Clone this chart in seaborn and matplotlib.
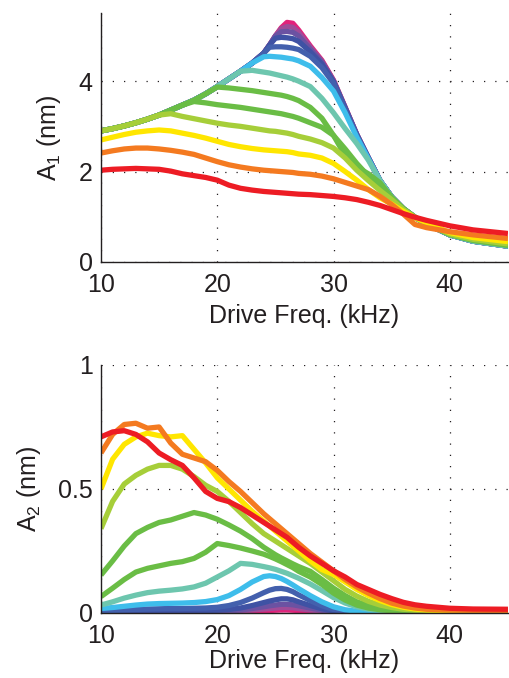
import numpy as np
import pandas as pd
import matplotlib
matplotlib.use("Agg")
import matplotlib.pyplot as plt
import seaborn as sns
from matplotlib.ticker import MultipleLocator, NullLocator

# ---------------- data ----------------
freq = [10, 11, 12, 13, 14, 15, 16, 17, 18, 19, 20, 21, 22, 23, 24, 24.5, 25, 25.5,
        26, 26.5, 27, 28, 29, 30, 31, 32, 33, 34, 35, 36, 37, 38, 40, 42, 45]

curve_names = ["c00", "c01", "c02", "c03", "c04", "c05", "c06",
               "c07", "c08", "c09", "c10", "c11", "c12"]
curve_colors = ["#E2237B", "#A04C98", "#6B52A2", "#3F52A4", "#4360AD", "#3EBDEB",
                "#6DC6AE", "#6ABD45", "#6ABD45", "#A6CE39", "#FFE600", "#F47A20", "#ED1C24"]

# A1 (top panel), nm
a1_c00 = [2.90, 2.95, 3.01, 3.08, 3.16, 3.25, 3.36, 3.47, 3.58, 3.72, 3.88, 4.05, 4.22, 4.40, 4.62,
          4.80, 5.00, 5.18, 5.30, 5.28, 5.13, 4.78, 4.46, 4.02, 3.42, 2.82, 2.30, 1.80, 1.44,
          1.18, 0.99, 0.84, 0.60, 0.46, 0.35]
a1_c01 = [2.90, 2.95, 3.01, 3.08, 3.16, 3.25, 3.36, 3.47, 3.58, 3.72, 3.88, 4.05, 4.22, 4.40, 4.62,
          4.80, 5.00, 5.16, 5.21, 5.19, 5.08, 4.75, 4.44, 4.01, 3.42, 2.82, 2.30, 1.80, 1.44,
          1.18, 0.99, 0.84, 0.60, 0.46, 0.35]
a1_c02 = [2.90, 2.95, 3.01, 3.08, 3.16, 3.25, 3.36, 3.47, 3.58, 3.72, 3.88, 4.05, 4.22, 4.40, 4.62,
          4.80, 5.00, 5.09, 5.10, 5.08, 5.00, 4.71, 4.42, 4.00, 3.41, 2.82, 2.30, 1.80, 1.44,
          1.18, 0.99, 0.84, 0.60, 0.46, 0.35]
a1_c03 = [2.90, 2.95, 3.01, 3.08, 3.16, 3.25, 3.36, 3.47, 3.58, 3.72, 3.88, 4.05, 4.22, 4.40, 4.62,
          4.80, 4.95, 4.97, 4.96, 4.94, 4.88, 4.65, 4.38, 3.98, 3.40, 2.81, 2.30, 1.80, 1.44,
          1.18, 0.99, 0.84, 0.60, 0.46, 0.35]
a1_c04 = [2.90, 2.95, 3.01, 3.08, 3.16, 3.25, 3.36, 3.47, 3.58, 3.72, 3.88, 4.05, 4.22, 4.40, 4.62,
          4.75, 4.76, 4.76, 4.75, 4.73, 4.70, 4.55, 4.30, 3.95, 3.38, 2.80, 2.30, 1.80, 1.44,
          1.18, 0.99, 0.84, 0.60, 0.46, 0.35]
a1_c05 = [2.90, 2.95, 3.01, 3.08, 3.16, 3.25, 3.36, 3.47, 3.58, 3.72, 3.88, 4.05, 4.22, 4.40, 4.54,
          4.55, 4.54, 4.53, 4.51, 4.49, 4.45, 4.33, 4.08, 3.78, 3.30, 2.76, 2.28, 1.80, 1.44,
          1.18, 0.99, 0.84, 0.60, 0.46, 0.35]
a1_c06 = [2.90, 2.95, 3.01, 3.08, 3.16, 3.25, 3.36, 3.47, 3.58, 3.72, 3.88, 4.05, 4.22, 4.24, 4.20,
          4.18, 4.15, 4.12, 4.09, 4.05, 4.00, 3.88, 3.62, 3.30, 2.95, 2.62, 2.25, 1.80, 1.44,
          1.18, 0.99, 0.84, 0.60, 0.46, 0.35]
a1_c07 = [2.90, 2.95, 3.01, 3.08, 3.16, 3.25, 3.36, 3.47, 3.58, 3.72, 3.87, 3.85, 3.82, 3.79, 3.75,
          3.73, 3.71, 3.69, 3.66, 3.62, 3.57, 3.42, 3.18, 2.80, 2.35, 2.10, 1.95, 1.75, 1.43,
          1.18, 0.99, 0.85, 0.61, 0.48, 0.37]
a1_c08 = [2.90, 2.95, 3.01, 3.08, 3.16, 3.25, 3.36, 3.47, 3.55, 3.52, 3.48, 3.45, 3.42, 3.38, 3.34,
          3.32, 3.30, 3.28, 3.25, 3.22, 3.18, 3.08, 2.98, 2.80, 2.50, 2.18, 1.90, 1.70, 1.42,
          1.18, 0.99, 0.85, 0.61, 0.48, 0.37]
a1_c09 = [2.90, 2.95, 3.01, 3.08, 3.16, 3.25, 3.28, 3.22, 3.17, 3.12, 3.07, 3.03, 3.00, 2.96, 2.92,
          2.90, 2.89, 2.87, 2.85, 2.82, 2.78, 2.72, 2.64, 2.52, 2.30, 2.03, 1.80, 1.58, 1.38,
          1.16, 0.99, 0.86, 0.62, 0.50, 0.40]
a1_c10 = [2.70, 2.76, 2.82, 2.87, 2.90, 2.92, 2.90, 2.85, 2.80, 2.74, 2.67, 2.60, 2.55, 2.51, 2.48,
          2.47, 2.46, 2.45, 2.44, 2.42, 2.39, 2.36, 2.30, 2.18, 2.00, 1.81, 1.60, 1.42, 1.28,
          1.12, 0.98, 0.87, 0.65, 0.54, 0.45]
a1_c11 = [2.41, 2.46, 2.50, 2.52, 2.52, 2.50, 2.47, 2.43, 2.38, 2.30, 2.22, 2.15, 2.10, 2.06, 2.03,
          2.02, 2.01, 2.00, 1.99, 1.98, 1.96, 1.94, 1.90, 1.84, 1.76, 1.68, 1.60, 1.45, 1.27,
          1.06, 0.83, 0.76, 0.67, 0.60, 0.52]
a1_c12 = [2.03, 2.05, 2.06, 2.07, 2.06, 2.05, 2.01, 1.95, 1.91, 1.87, 1.81, 1.70, 1.63, 1.59, 1.56,
          1.55, 1.54, 1.53, 1.52, 1.51, 1.50, 1.49, 1.47, 1.45, 1.42, 1.38, 1.32, 1.25, 1.16,
          1.07, 0.99, 0.92, 0.80, 0.71, 0.63]

# A2 (bottom panel), nm
a2_c00 = [0.002, 0.002, 0.002, 0.003, 0.003, 0.003, 0.003, 0.003, 0.003, 0.003, 0.004, 0.004, 0.005, 0.007, 0.009,
          0.010, 0.011, 0.012, 0.012, 0.011, 0.010, 0.007, 0.004, 0.002, 0.001, 0.001, 0.001, 0.001, 0.001,
          0.001, 0.001, 0.001, 0.001, 0.001, 0.001]
a2_c01 = [0.002, 0.002, 0.003, 0.003, 0.003, 0.003, 0.004, 0.004, 0.004, 0.004, 0.005, 0.006, 0.008, 0.012, 0.016,
          0.018, 0.020, 0.022, 0.022, 0.021, 0.018, 0.012, 0.007, 0.003, 0.002, 0.001, 0.001, 0.001, 0.001,
          0.001, 0.001, 0.001, 0.001, 0.001, 0.001]
a2_c02 = [0.003, 0.003, 0.004, 0.004, 0.005, 0.005, 0.005, 0.005, 0.006, 0.006, 0.007, 0.009, 0.012, 0.018, 0.025,
          0.029, 0.032, 0.035, 0.035, 0.033, 0.029, 0.020, 0.011, 0.005, 0.003, 0.002, 0.002, 0.002, 0.002,
          0.002, 0.002, 0.002, 0.002, 0.002, 0.002]
a2_c03 = [0.004, 0.005, 0.006, 0.007, 0.008, 0.008, 0.009, 0.009, 0.009, 0.010, 0.011, 0.014, 0.020, 0.030, 0.042,
          0.048, 0.053, 0.057, 0.057, 0.053, 0.045, 0.030, 0.017, 0.008, 0.004, 0.002, 0.002, 0.002, 0.002,
          0.002, 0.002, 0.002, 0.002, 0.002, 0.002]
a2_c04 = [0.008, 0.010, 0.012, 0.014, 0.016, 0.017, 0.018, 0.018, 0.019, 0.020, 0.023, 0.030, 0.042, 0.060, 0.082,
          0.092, 0.098, 0.099, 0.095, 0.086, 0.073, 0.050, 0.029, 0.014, 0.007, 0.003, 0.002, 0.002, 0.002,
          0.002, 0.002, 0.002, 0.002, 0.002, 0.002]
a2_c05 = [0.018, 0.022, 0.027, 0.032, 0.036, 0.038, 0.039, 0.040, 0.042, 0.046, 0.054, 0.070, 0.095, 0.125, 0.147,
          0.150, 0.147, 0.139, 0.127, 0.113, 0.098, 0.070, 0.045, 0.025, 0.013, 0.007, 0.004, 0.003, 0.003,
          0.003, 0.003, 0.003, 0.003, 0.003, 0.003]
a2_c06 = [0.032, 0.045, 0.060, 0.072, 0.082, 0.088, 0.092, 0.097, 0.105, 0.120, 0.145, 0.170, 0.200, 0.196, 0.187,
          0.182, 0.176, 0.168, 0.160, 0.150, 0.140, 0.117, 0.090, 0.062, 0.040, 0.025, 0.015, 0.010, 0.007,
          0.005, 0.004, 0.004, 0.004, 0.004, 0.004]
a2_c07 = [0.066, 0.100, 0.135, 0.165, 0.180, 0.190, 0.200, 0.207, 0.220, 0.245, 0.280, 0.272, 0.262, 0.250, 0.237,
          0.228, 0.218, 0.207, 0.195, 0.183, 0.168, 0.145, 0.115, 0.080, 0.052, 0.032, 0.020, 0.013, 0.009,
          0.007, 0.006, 0.005, 0.005, 0.005, 0.005]
a2_c08 = [0.153, 0.210, 0.270, 0.320, 0.345, 0.365, 0.375, 0.390, 0.405, 0.395, 0.378, 0.355, 0.330, 0.300, 0.265,
          0.250, 0.235, 0.222, 0.210, 0.198, 0.187, 0.168, 0.135, 0.100, 0.070, 0.045, 0.030, 0.020, 0.014,
          0.010, 0.008, 0.006, 0.005, 0.005, 0.005]
a2_c09 = [0.340, 0.450, 0.520, 0.555, 0.580, 0.595, 0.595, 0.580, 0.550, 0.515, 0.490, 0.450, 0.405, 0.360, 0.320,
          0.305, 0.290, 0.275, 0.260, 0.245, 0.230, 0.200, 0.165, 0.130, 0.095, 0.068, 0.047, 0.032, 0.022,
          0.015, 0.011, 0.009, 0.007, 0.006, 0.006]
a2_c10 = [0.500, 0.620, 0.680, 0.710, 0.725, 0.715, 0.710, 0.715, 0.660, 0.605, 0.545, 0.500, 0.455, 0.410, 0.370,
          0.350, 0.330, 0.310, 0.290, 0.270, 0.250, 0.210, 0.175, 0.155, 0.125, 0.095, 0.070, 0.050, 0.034,
          0.023, 0.016, 0.012, 0.009, 0.008, 0.007]
a2_c11 = [0.645, 0.720, 0.760, 0.765, 0.745, 0.750, 0.685, 0.640, 0.625, 0.610, 0.575, 0.530, 0.490, 0.445, 0.400,
          0.380, 0.360, 0.340, 0.320, 0.300, 0.280, 0.240, 0.205, 0.170, 0.135, 0.105, 0.080, 0.058, 0.040,
          0.028, 0.020, 0.015, 0.012, 0.011, 0.010]
a2_c12 = [0.710, 0.730, 0.735, 0.720, 0.690, 0.645, 0.618, 0.595, 0.545, 0.490, 0.462, 0.449, 0.425, 0.395, 0.365,
          0.350, 0.335, 0.320, 0.305, 0.285, 0.265, 0.230, 0.200, 0.170, 0.145, 0.115, 0.095, 0.075, 0.058,
          0.043, 0.033, 0.027, 0.019, 0.016, 0.015]

a1_series = [a1_c00, a1_c01, a1_c02, a1_c03, a1_c04, a1_c05, a1_c06,
             a1_c07, a1_c08, a1_c09, a1_c10, a1_c11, a1_c12]
a2_series = [a2_c00, a2_c01, a2_c02, a2_c03, a2_c04, a2_c05, a2_c06,
             a2_c07, a2_c08, a2_c09, a2_c10, a2_c11, a2_c12]

x_ticks = [10, 20, 30, 40]
x_ticklabels = ["10", "20", "30", "40"]
y1_ticks = [0, 2, 4]
y1_ticklabels = ["0", "2", "4"]
y2_ticks = [0, 0.5, 1]
y2_ticklabels = ["0", "0.5", "1"]


def long_frame(series_list):
    rows = []
    for name, vals in zip(curve_names, series_list):
        for f, v in zip(freq, vals):
            rows.append((name, f, v))
    return pd.DataFrame(rows, columns=["curve", "freq", "amp"])


# ---------------- style ----------------
sns.set_style("white")
plt.rcParams["font.family"] = ["Liberation Sans", "DejaVu Sans"]
plt.rcParams["mathtext.default"] = "regular"

INK = "#231F20"
FS = 18

fig = plt.figure(figsize=(5.10, 6.78), dpi=100)
ax1 = fig.add_axes([0.198, 0.6136, 0.798, 0.3667])
ax2 = fig.add_axes([0.198, 0.0959, 0.798, 0.3658])

palette = dict(zip(curve_names, curve_colors))

for ax, series in ((ax1, a1_series), (ax2, a2_series)):
    sns.lineplot(data=long_frame(series), x="freq", y="amp", hue="curve",
                 hue_order=curve_names, palette=palette, estimator=None,
                 sort=False, legend=False, lw=3.8, ax=ax,
                 solid_capstyle="butt", solid_joinstyle="round")


def style(ax, ylim, yticks, yticklabels, ylabel, xlabelpad):
    ax.set_xlim(10, 45)
    ax.set_ylim(*ylim)
    ax.set_xticks(x_ticks)
    ax.set_xticklabels(x_ticklabels)
    ax.set_yticks(yticks)
    ax.set_yticklabels(yticklabels)
    ax.xaxis.set_minor_locator(MultipleLocator(1))
    ax.yaxis.set_minor_locator(NullLocator())
    for s in ("top", "right"):
        ax.spines[s].set_visible(False)
    for s in ("left", "bottom"):
        ax.spines[s].set_color(INK)
        ax.spines[s].set_linewidth(1.0)
    ax.tick_params(which="both", direction="in", color=INK, labelcolor=INK,
                   labelsize=FS, top=False, right=False)
    ax.tick_params(which="major", length=4, width=0.8)
    ax.tick_params(axis="x", which="major", pad=8)
    ax.tick_params(axis="y", which="major", pad=6)
    ax.tick_params(which="minor", length=2.5, width=0.6)
    ax.grid(True, which="major", color=INK, linestyle=(0, (1, 8)), linewidth=0.9)
    ax.set_axisbelow(True)
    ax.set_xlabel("Drive Freq. (kHz)", fontsize=FS, color=INK, labelpad=xlabelpad)
    ax.set_ylabel(ylabel, fontsize=FS, color=INK, labelpad=11)
    ax.set_facecolor("white")


style(ax1, (0, 5.5), y1_ticks, y1_ticklabels, "A$_1$ (nm)", 5)
style(ax2, (0, 1.0), y2_ticks, y2_ticklabels, "A$_2$ (nm)", 1)

fig.savefig("out.png", dpi=100, facecolor="white")
